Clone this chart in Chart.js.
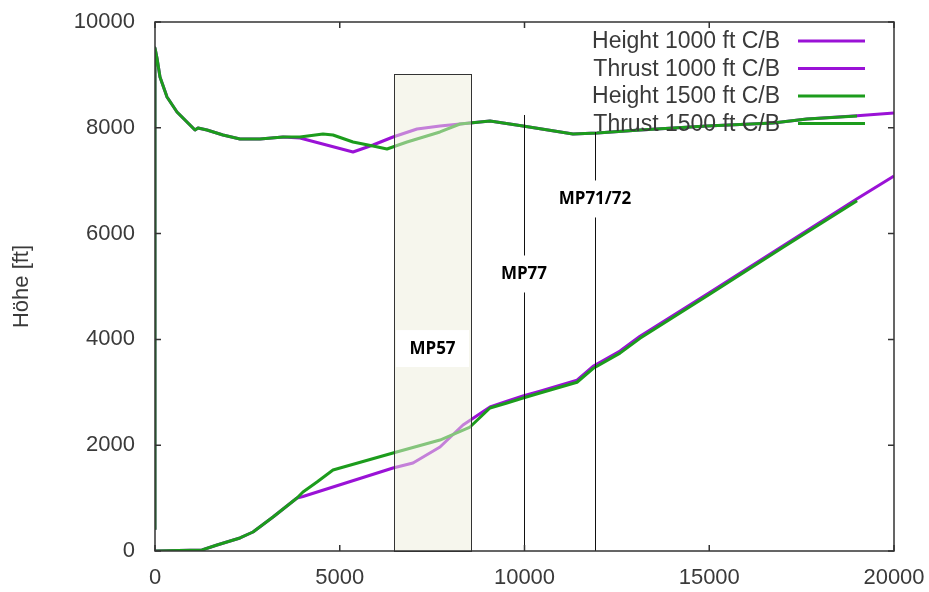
<!DOCTYPE html>
<html>
<head>
<meta charset="utf-8">
<script src="https://cdn.jsdelivr.net/npm/chart.js@4"></script>
<style>
  html, body { margin: 0; padding: 0; background: #fff; }
  #wrap { width: 929px; height: 592px; }
</style>
</head>
<body>
<div id="wrap"><canvas id="chart" width="929" height="592"></canvas></div>
<script>
// Distance [m] / Höhe [ft]
const thrust1500X = [0, 0, 54, 135, 325, 595, 947, 1083, 1164, 1407, 1840, 2300, 2842, 3464, 3924, 4547, 4817, 5359, 5900, 6279, 6820, 7713, 8254, 9066, 9959, 11312, 11962, 13126, 14939, 16725, 17645, 19000];
const thrust1500Y = [400, 9510, 9319, 8960, 8582, 8299, 8053, 7958, 7996, 7958, 7864, 7788, 7788, 7826, 7826, 7883, 7864, 7732, 7656, 7599, 7732, 7921, 8072, 8129, 8034, 7883, 7902, 7958, 8034, 8091, 8166, 8223];

const thrust1000X = [0, 0, 54, 135, 325, 595, 947, 1083, 1164, 1407, 1840, 2300, 2842, 3464, 3924, 5359, 5900, 6441, 7091, 7713, 8525, 9066, 9959, 11312, 11962, 13126, 14939, 16725, 17645, 19000, 20000];
const thrust1000Y = [400, 9510, 9319, 8960, 8582, 8299, 8053, 7958, 7996, 7958, 7864, 7788, 7788, 7826, 7807, 7543, 7675, 7826, 7977, 8034, 8091, 8129, 8034, 7883, 7902, 7958, 8034, 8091, 8166, 8230, 8280];

const height1500X = [0, 1272, 1678, 2300, 2652, 3194, 3843, 4005, 4384, 4817, 5007, 6441, 7713, 8525, 9066, 9526, 9959, 10419, 11421, 11854, 12585, 13126, 15000, 17000, 19000];
const height1500Y = [0, 19, 113, 246, 359, 643, 1002, 1115, 1304, 1531, 1569, 1853, 2098, 2344, 2703, 2798, 2892, 2987, 3190, 3450, 3740, 4020, 4850, 5740, 6620];

const height1000X = [0, 1272, 1678, 2300, 2652, 3194, 3843, 4005, 6441, 6982, 7713, 8336, 9066, 9526, 9959, 10419, 11421, 11854, 12585, 13126, 15000, 17000, 19000, 20000];
const height1000Y = [0, 19, 113, 246, 359, 643, 1002, 1030, 1569, 1663, 1966, 2382, 2722, 2830, 2930, 3020, 3230, 3490, 3780, 4060, 4880, 5770, 6660, 7090];

const seriesLabels = ['Height 1000 ft C/B', 'Thrust 1000 ft C/B', 'Height 1500 ft C/B', 'Thrust 1500 ft C/B'];
const xTicks = [0, 5000, 10000, 15000, 20000];
const yTicks = [0, 2000, 4000, 6000, 8000, 10000];

// marked sections: MP57 band, MP77 and MP71/72 lines
const bandX = [6468, 8552];
const bandTop = 9017;
const markerX = [9986, 11908];
const markerTop = [8242, 7920];
const markerNames = ['MP77', 'MP71/72'];
const markerLabelY = [5246, 6664];
const bandName = 'MP57';
const bandLabelY = 3837;

const PURPLE = '#9a12d6';
const GREEN = '#1c9c1c';

function pts(xs, ys) {
  return xs.map((x, i) => ({x: x, y: ys[i]}));
}

function labelBox(ctx, text, cx, cy, w) {
  ctx.font = 'bold 17px "Open Sans"';
  const tw = ctx.measureText(text).width;
  const bw = w || tw + 14;
  ctx.fillStyle = '#ffffff';
  ctx.fillRect(cx - bw / 2, cy - 18, bw, 37);
  ctx.fillStyle = '#000000';
  ctx.textAlign = 'center';
  ctx.textBaseline = 'middle';
  ctx.fillText(text, cx, cy + 1);
}

const overlay = {
  id: 'overlay',
  afterDatasetsDraw(chart) {
    const {ctx, chartArea: a, scales: {x, y}} = chart;
    ctx.save();

    // MP57 band
    const bx0 = x.getPixelForValue(bandX[0]);
    const bx1 = x.getPixelForValue(bandX[1]);
    const by0 = y.getPixelForValue(bandTop);
    ctx.fillStyle = 'rgba(238,238,220,0.5)';
    ctx.fillRect(bx0, by0, bx1 - bx0, a.bottom - by0);
    ctx.strokeStyle = '#333';
    ctx.lineWidth = 1;
    ctx.strokeRect(Math.round(bx0) + 0.5, Math.round(by0) + 0.5, Math.round(bx1 - bx0), a.bottom - Math.round(by0));

    // marker lines
    markerX.forEach((mx, i) => {
      const px = Math.round(x.getPixelForValue(mx)) + 0.5;
      ctx.beginPath();
      ctx.moveTo(px, y.getPixelForValue(markerTop[i]));
      ctx.lineTo(px, a.bottom);
      ctx.strokeStyle = '#111';
      ctx.stroke();
    });

    // labels
    labelBox(ctx, bandName, (bx0 + bx1) / 2, y.getPixelForValue(bandLabelY), bx1 - bx0 - 4);
    markerX.forEach((mx, i) => {
      labelBox(ctx, markerNames[i], x.getPixelForValue(mx), y.getPixelForValue(markerLabelY[i]));
    });

    // frame with inward ticks
    ctx.strokeStyle = '#333';
    ctx.lineWidth = 1.5;
    ctx.strokeRect(a.left, a.top, a.right - a.left, a.bottom - a.top);
    ctx.beginPath();
    xTicks.forEach(v => {
      const px = x.getPixelForValue(v);
      ctx.moveTo(px, a.bottom); ctx.lineTo(px, a.bottom - 6);
      ctx.moveTo(px, a.top); ctx.lineTo(px, a.top + 6);
    });
    yTicks.forEach(v => {
      const py = y.getPixelForValue(v);
      ctx.moveTo(a.left, py); ctx.lineTo(a.left + 6, py);
      ctx.moveTo(a.right, py); ctx.lineTo(a.right - 6, py);
    });
    ctx.stroke();

    // legend, samples on the right
    ctx.font = '23px "Liberation Sans"';
    ctx.textAlign = 'right';
    ctx.textBaseline = 'middle';
    chart.data.datasets.forEach((ds, i) => {
      const ly = a.top + 19 + i * 27.5;
      ctx.fillStyle = '#3a3a3a';
      ctx.fillText(ds.label, a.right - 114, ly + 1);
      ctx.beginPath();
      ctx.moveTo(a.right - 96, ly);
      ctx.lineTo(a.right - 29, ly);
      ctx.strokeStyle = ds.borderColor;
      ctx.lineWidth = 3;
      ctx.stroke();
    });
    ctx.restore();
  }
};

new Chart(document.getElementById('chart'), {
  type: 'scatter',
  data: {
    datasets: [
      {label: seriesLabels[0], data: pts(height1000X, height1000Y), borderColor: PURPLE, order: 2},
      {label: seriesLabels[1], data: pts(thrust1000X, thrust1000Y), borderColor: PURPLE, order: 2},
      {label: seriesLabels[2], data: pts(height1500X, height1500Y), borderColor: GREEN, order: 1},
      {label: seriesLabels[3], data: pts(thrust1500X, thrust1500Y), borderColor: GREEN, order: 1}
    ]
  },
  options: {
    responsive: false,
    animation: false,
    showLine: true,
    elements: {
      point: {radius: 0, hoverRadius: 0},
      line: {borderWidth: 3, tension: 0, borderJoinStyle: 'round'}
    },
    layout: {padding: {left: 0, right: 35, top: 22, bottom: 0}},
    plugins: {legend: {display: false}, tooltip: {enabled: false}},
    scales: {
      x: {
        type: 'linear', min: 0, max: 20000,
        afterFit(s) { s.height = 41; s.paddingLeft = 0; s.paddingRight = 0; },
        afterBuildTicks(s) { s.ticks = xTicks.map(v => ({value: v})); },
        grid: {display: false, drawTicks: false},
        border: {display: false},
        ticks: {color: '#3a3a3a', font: {family: 'Liberation Sans', size: 22}, padding: 14, maxRotation: 0,
                callback: v => String(v)}
      },
      y: {
        type: 'linear', min: 0, max: 10000,
        afterFit(s) { s.width = 155; s.paddingTop = 0; s.paddingBottom = 0; },
        afterBuildTicks(s) { s.ticks = yTicks.map(v => ({value: v})); },
        grid: {display: false, drawTicks: false},
        border: {display: false},
        ticks: {color: '#3a3a3a', font: {family: 'Liberation Sans', size: 22}, padding: 20,
                callback: v => String(v)},
        title: {display: true, text: 'Höhe [ft]', color: '#3a3a3a', font: {family: 'Liberation Sans', size: 22}, padding: {top: 9, bottom: 0}}
      }
    }
  },
  plugins: [overlay]
});
</script>
</body>
</html>
